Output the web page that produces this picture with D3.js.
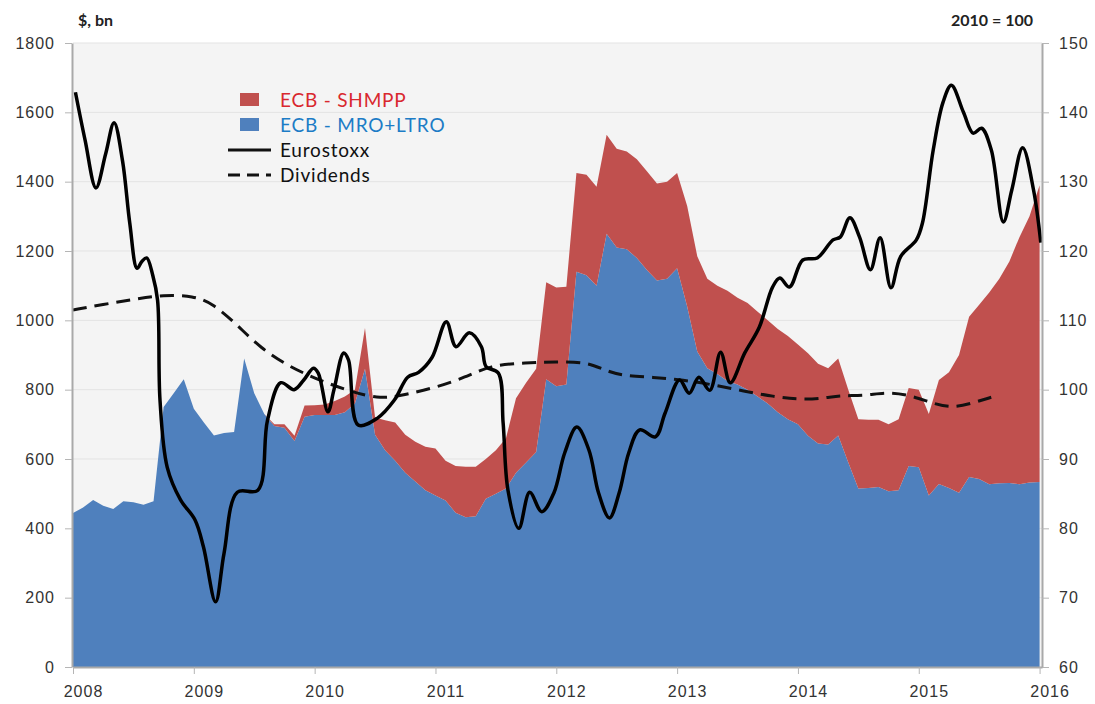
<!DOCTYPE html>
<html>
<head>
<meta charset="utf-8">
<script src="https://cdn.jsdelivr.net/npm/d3@7"></script>
<style>
  body { margin: 0; background: #fff; }
  svg { font-family: Lato, "Open Sans", sans-serif; }
</style>
</head>
<body>
<svg width="1095" height="704"></svg>
<script>
// monthly ECB balance sheet items, $ bn, Jan 2008 .. Jan 2016
const months = [
  "2008-01","2008-02","2008-03","2008-04","2008-05","2008-06","2008-07","2008-08","2008-09","2008-10","2008-11","2008-12",
  "2009-01","2009-02","2009-03","2009-04","2009-05","2009-06","2009-07","2009-08","2009-09","2009-10","2009-11","2009-12",
  "2010-01","2010-02","2010-03","2010-04","2010-05","2010-06","2010-07","2010-08","2010-09","2010-10","2010-11","2010-12",
  "2011-01","2011-02","2011-03","2011-04","2011-05","2011-06","2011-07","2011-08","2011-09","2011-10","2011-11","2011-12",
  "2012-01","2012-02","2012-03","2012-04","2012-05","2012-06","2012-07","2012-08","2012-09","2012-10","2012-11","2012-12",
  "2013-01","2013-02","2013-03","2013-04","2013-05","2013-06","2013-07","2013-08","2013-09","2013-10","2013-11","2013-12",
  "2014-01","2014-02","2014-03","2014-04","2014-05","2014-06","2014-07","2014-08","2014-09","2014-10","2014-11","2014-12",
  "2015-01","2015-02","2015-03","2015-04","2015-05","2015-06","2015-07","2015-08","2015-09","2015-10","2015-11","2015-12",
  "2016-01"
];
const mroLtro = [
  444, 460, 482, 465, 456, 478, 475, 468, 478, 750, 790, 830,
  745, 705, 668, 675, 678, 890, 790, 730, 695, 690, 652, 722,
  727, 727, 727, 735, 760, 860, 670, 625, 595, 560, 535, 510,
  495, 480, 445, 432, 435, 485, 500, 515, 560, 590, 620, 830,
  810, 815, 1140, 1130, 1100, 1250, 1210, 1205, 1180, 1145, 1115, 1120,
  1150, 1040, 910, 862, 845, 825, 815, 800, 780, 760, 735, 715,
  700, 667, 645, 642, 668, 590, 515, 516, 519, 507, 510, 580,
  576, 495, 528, 516, 503, 548, 542, 527, 530, 531, 527, 532,
  534
];
const shmpp = [
  0, 0, 0, 0, 0, 0, 0, 0, 0, 0, 0, 0,
  0, 0, 0, 0, 0, 0, 0, 0, 5, 10, 15, 32,
  28, 30, 40, 45, 40, 118, 50, 87, 110, 110, 115, 125,
  135, 115, 135, 146, 143, 115, 125, 145, 215, 230, 240, 280,
  285, 282, 285, 290, 285, 285, 285, 282, 285, 285, 280, 280,
  275, 290, 275, 258, 255, 260, 250, 250, 245, 240, 240, 240,
  230, 238, 230, 220, 222, 210, 200, 197, 194, 193, 205, 225,
  224, 235, 300, 334, 397, 462, 503, 553, 590, 639, 713, 768,
  856
];

// Eurostoxx, 2010 = 100 (time in decimal years)
const stoxxTime = [
  2008.02, 2008.10, 2008.19, 2008.27, 2008.34, 2008.41, 2008.47, 2008.53, 2008.57, 2008.61, 2008.66, 2008.70,
  2008.72, 2008.78, 2008.89, 2009.01, 2009.08, 2009.18, 2009.25, 2009.36, 2009.53, 2009.61,
  2009.72, 2009.83, 2009.91, 2009.99, 2010.03, 2010.11, 2010.16, 2010.24, 2010.28, 2010.36, 2010.52, 2010.66,
  2010.77, 2010.86, 2010.97, 2011.09, 2011.17, 2011.28, 2011.38, 2011.42, 2011.52, 2011.56, 2011.60,
  2011.69, 2011.78, 2011.88, 2011.98, 2012.07, 2012.17, 2012.27, 2012.35,
  2012.44, 2012.52, 2012.60, 2012.69, 2012.82, 2012.90, 2013.02, 2013.10, 2013.18, 2013.27, 2013.36, 2013.44,
  2013.56, 2013.68, 2013.79, 2013.85, 2013.93, 2014.04, 2014.16, 2014.29, 2014.35, 2014.43, 2014.51, 2014.60,
  2014.68, 2014.77, 2014.85, 2014.98, 2015.03, 2015.12, 2015.20, 2015.27, 2015.37, 2015.45, 2015.52, 2015.60,
  2015.70, 2015.77, 2015.86, 2015.95, 2016.01
];
const stoxx = [
  142.9, 136.0, 129.1, 134.0, 138.5, 133.0, 124.0, 117.5, 118.5, 119.0, 116.5, 112.9,
  98.5, 88.8, 84.1, 81.2, 77.3, 69.4, 76.4, 85.2, 85.5, 95.6,
  101.0, 100.0, 101.4, 103.1, 102.4, 96.8, 100.0, 105.3, 104.3, 94.9, 95.9, 98.5,
  101.8, 102.5, 104.6, 109.8, 106.2, 108.2, 106.2, 103.3, 102.4, 95.2, 85.5,
  80.0, 85.2, 82.4, 85.1, 90.9, 94.6, 91.3, 85.1,
  81.5, 85.1, 90.9, 94.2, 93.2, 96.6, 101.4, 99.5, 101.8, 99.9, 105.4, 101.0,
  105.3, 109.0, 114.8, 116.1, 114.8, 118.7, 119.0, 121.6, 122.0, 124.8, 122.0, 117.3,
  121.9, 114.7, 119.2, 121.6, 124.0, 134.6, 141.4, 143.9, 140.0, 137.0, 137.7, 134.6,
  124.2, 128.8, 134.9, 128.8, 121.2
];

// Dividends, 2010 = 100
const divTime = [
  2008.00, 2008.25, 2008.50, 2008.75, 2009.00, 2009.15, 2009.35, 2009.55, 2009.80, 2010.05, 2010.30, 2010.55,
  2010.75, 2011.00, 2011.25, 2011.45, 2011.75, 2012.00, 2012.25, 2012.40, 2012.55, 2012.80, 2013.05, 2013.30,
  2013.55, 2013.80, 2014.00, 2014.20, 2014.35, 2014.55, 2014.75, 2014.95, 2015.15, 2015.30, 2015.45, 2015.60
];
const dividends = [
  111.5, 112.3, 113.0, 113.7, 113.5, 112.5, 109.5, 106.0, 103.2, 101.3, 99.7, 98.6,
  99.3, 100.3, 101.8, 103.5, 103.9, 104.0, 104.0, 102.8, 102.0, 101.8, 101.4, 100.7,
  99.8, 99.0, 98.6, 98.7, 99.2, 99.1, 99.7, 99.1, 97.8, 97.4, 98.1, 98.9
];

const years = [2008, 2009, 2010, 2011, 2012, 2013, 2014, 2015, 2016];
const leftTicks = [0, 200, 400, 600, 800, 1000, 1200, 1400, 1600, 1800];
const rightTicks = [60, 70, 80, 90, 100, 110, 120, 130, 140, 150];

const svg = d3.select("svg");
const plotLeft = 73, plotRight = 1042, plotTop = 43, plotBottom = 667;

const x = d3.scaleLinear().domain([2008, 2016.02]).range([plotLeft, plotRight]);
const yL = d3.scaleLinear().domain([0, 1800]).range([plotBottom, plotTop]);
const yR = d3.scaleLinear().domain([60, 150]).range([plotBottom, plotTop]);

const toYear = s => {
  const [yy, mm] = s.split("-").map(Number);
  return yy + (mm - 1) / 12;
};

const rows = months.map((m, i) => ({ t: toYear(m), mro: mroLtro[i], shmpp: shmpp[i] }));
const stack = d3.stack().keys(["mro", "shmpp"])(rows);

// plot background + grid
svg.append("rect")
  .attr("x", plotLeft).attr("y", plotTop)
  .attr("width", plotRight - plotLeft).attr("height", plotBottom - plotTop)
  .attr("fill", "#f4f4f4");

svg.append("g")
  .selectAll("line")
  .data(leftTicks.filter(d => d > 0))
  .enter()
  .append("line")
  .attr("x1", plotLeft).attr("x2", plotRight)
  .attr("y1", d => yL(d)).attr("y2", d => yL(d))
  .attr("stroke", "#e3e3e3")
  .attr("stroke-width", 1);

const area = d3.area()
  .x(d => x(d.data.t))
  .y0(d => yL(d[0]))
  .y1(d => yL(d[1]));

const colors = { mro: "#4f80bd", shmpp: "#c0504e" };

svg.append("g")
  .selectAll("path")
  .data(stack)
  .enter()
  .append("path")
  .attr("d", area)
  .attr("fill", d => colors[d.key]);

// lines on right axis
const stoxxLine = d3.line()
  .x((d, i) => x(stoxxTime[i]))
  .y(d => yR(d))
  .curve(d3.curveCatmullRom.alpha(0.5));

const divLine = d3.line()
  .x((d, i) => x(divTime[i]))
  .y(d => yR(d))
  .curve(d3.curveBasis);

svg.append("path")
  .attr("d", divLine(dividends))
  .attr("fill", "none")
  .attr("stroke", "#111")
  .attr("stroke-width", 3)
  .attr("stroke-dasharray", "14,8");

svg.append("path")
  .attr("d", stoxxLine(stoxx))
  .attr("fill", "none")
  .attr("stroke", "#000")
  .attr("stroke-width", 3.5)
  .attr("stroke-linejoin", "round");

// axes
function styleAxis(g) {
  g.selectAll(".domain").attr("stroke", "#a9a9a9").attr("stroke-width", 2);
  g.selectAll(".tick line").attr("stroke", "#b5b5b5");
  g.selectAll("text")
    .attr("fill", "#333")
    .attr("font-size", 16)
    .attr("letter-spacing", 1);
}

svg.append("g")
  .attr("transform", "translate(" + (plotLeft - 1) + ",0)")
  .call(d3.axisLeft(yL).tickValues(leftTicks).tickFormat(d3.format("d")).tickSize(7).tickPadding(10).tickSizeOuter(0))
  .call(styleAxis);

svg.append("g")
  .attr("transform", "translate(" + plotRight + ",0)")
  .call(d3.axisRight(yR).tickValues(rightTicks).tickSize(7).tickPadding(10).tickSizeOuter(0))
  .call(styleAxis);

svg.append("g")
  .attr("transform", "translate(0," + plotBottom + ")")
  .call(d3.axisBottom(x).tickValues(years).tickFormat(d3.format("d")).tickSize(7).tickPadding(12).tickSizeOuter(0))
  .call(styleAxis)
  .call(g => g.selectAll("text").attr("dx", 10));

// unit labels
svg.append("text")
  .attr("x", 78).attr("y", 26)
  .attr("font-size", 16).attr("font-weight", "bold").attr("fill", "#222")
  .text("$, bn");

svg.append("text")
  .attr("x", 1033).attr("y", 26)
  .attr("text-anchor", "end")
  .attr("font-size", 16).attr("font-weight", "bold").attr("fill", "#222")
  .text("2010 = 100");

// legend
const legend = svg.append("g").attr("font-size", 19);
const legendItems = [
  { label: "ECB - SHMPP", type: "box", fill: colors.shmpp, text: "#d9282e" },
  { label: "ECB - MRO+LTRO", type: "box", fill: colors.mro, text: "#1c7cc6" },
  { label: "Eurostoxx", type: "line", text: "#111" },
  { label: "Dividends", type: "dash", text: "#111" }
];

legendItems.forEach((d, i) => {
  const cy = 100 + i * 25;
  if (d.type == "box") {
    legend.append("rect")
      .attr("x", 240).attr("y", cy - 7)
      .attr("width", 19).attr("height", 13)
      .attr("fill", d.fill);
  } else {
    legend.append("line")
      .attr("x1", 228).attr("x2", 271)
      .attr("y1", cy).attr("y2", cy)
      .attr("stroke", "#111")
      .attr("stroke-width", 3)
      .attr("stroke-dasharray", d.type == "dash" ? "12,7" : null);
  }
  legend.append("text")
    .attr("x", 280).attr("y", cy)
    .attr("dy", "0.35em")
    .attr("fill", d.text)
    .attr("letter-spacing", 0.8)
    .text(d.label);
});
</script>
</body>
</html>
